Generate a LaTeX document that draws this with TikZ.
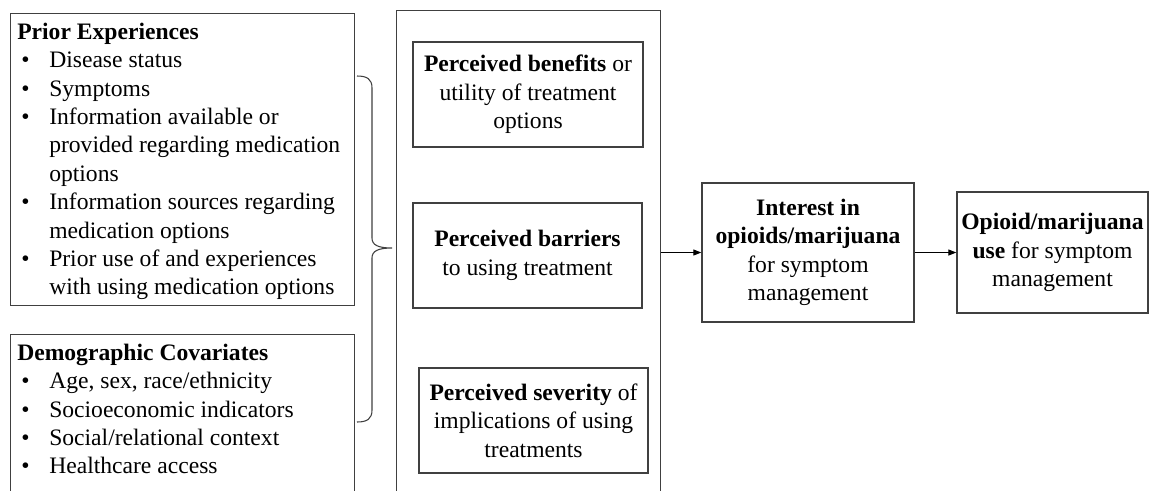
\documentclass[tikz,border=0pt]{standalone}
\usepackage{fontspec}
\setmainfont{Liberation Serif}
\usetikzlibrary{arrows.meta}
\definecolor{linecol}{RGB}{64,64,64}
\tikzset{
  x=0.75pt, y=-0.75pt,
  box/.style={draw=linecol, line width=1pt, inner sep=0pt},
  txt/.style={font=\fontsize{17.7}{21.3}\selectfont, align=center, inner sep=0pt},
  list/.style={font=\fontsize{17.7}{21.3}\selectfont, inner sep=0pt, anchor=north west},
  arr/.style={-{Triangle[length=6pt,width=4.5pt]}, line width=0.8pt, draw=black},
  bracestyle/.style={draw=linecol, line width=0.8pt},
}
\begin{document}
\begin{tikzpicture}
\useasboundingbox (0,0) rectangle (1149,490);
\clip (0,0) rectangle (1149,490);
\fill[white] (0,0) rectangle (1149,490);

% left boxes
\node[box, anchor=north west, minimum width=258pt, minimum height=219pt] (prior) at (10,13) {};
\node[box, anchor=north west, minimum width=258pt, minimum height=150pt] (demo) at (10,334) {};

\node[list] (priortxt) at (17,19.1) {%
\begin{tabular}{@{\hspace{3pt}}p{21pt}@{}l@{}}
\multicolumn{2}{@{}l@{}}{\textbf{Prior Experiences}}\\
• & Disease status\\
• & Symptoms\\
• & Information available or\\
  & provided regarding medication\\
  & options\\
• & Information sources regarding\\
  & medication options\\
• & Prior use of and experiences\\
  & with using medication options
\end{tabular}};

\node[list] (demotxt) at (17,340.1) {%
\begin{tabular}{@{\hspace{3pt}}p{21pt}@{}l@{}}
\multicolumn{2}{@{}l@{}}{\textbf{Demographic Covariates}}\\
• & Age, sex, race/ethnicity\\
• & Socioeconomic indicators\\
• & Social/relational context\\
• & Healthcare access
\end{tabular}};

% brace
\coordinate (bt) at (357,76);
\coordinate (bb) at (357,422);
\coordinate (btip) at (392,248);
\draw[bracestyle] (bt) .. controls (367,76) and (372,79) .. (372,88)
  -- (372,238) .. controls (372,245) and (378,248) .. (btip)
  .. controls (378,248) and (372,251) .. (372,258)
  -- (372,410) .. controls (372,419) and (367,422) .. (bb);

% middle big box
\node[box, anchor=north west, minimum width=198pt, minimum height=375pt] (mid) at (396,10) {};

\node[box, txt, minimum width=172.5pt, minimum height=78.75pt] (ben) at (528,94.5)
  {\textbf{Perceived benefits} or\\ utility of treatment\\ options};
\node[box, txt, minimum width=171.75pt, minimum height=78.75pt] (bar) at (527.5,255.5)
  {\textbf{Perceived barriers}\\ to using treatment};
\node[box, txt, minimum width=171.75pt, minimum height=78.75pt] (sev) at (533.5,420.5)
  {\textbf{Perceived severity} of\\ implications of using\\ treatments};

% right boxes
\node[box, txt, minimum width=159pt, minimum height=104.25pt] (int) at (808,252.5)
  {\textbf{Interest in}\\ \textbf{opioids/marijuana}\\ for symptom\\ management};
\node[box, txt, minimum width=143.25pt, minimum height=90.75pt] (opi) at (1052.5,252.5)
  {\textbf{Opioid/marijuana}\\ \textbf{use} for symptom\\ management};

\draw[arr] (mid.east |- int.west) -- (int.west);
\draw[arr] (int.east) -- (opi.west);
\end{tikzpicture}
\end{document}
